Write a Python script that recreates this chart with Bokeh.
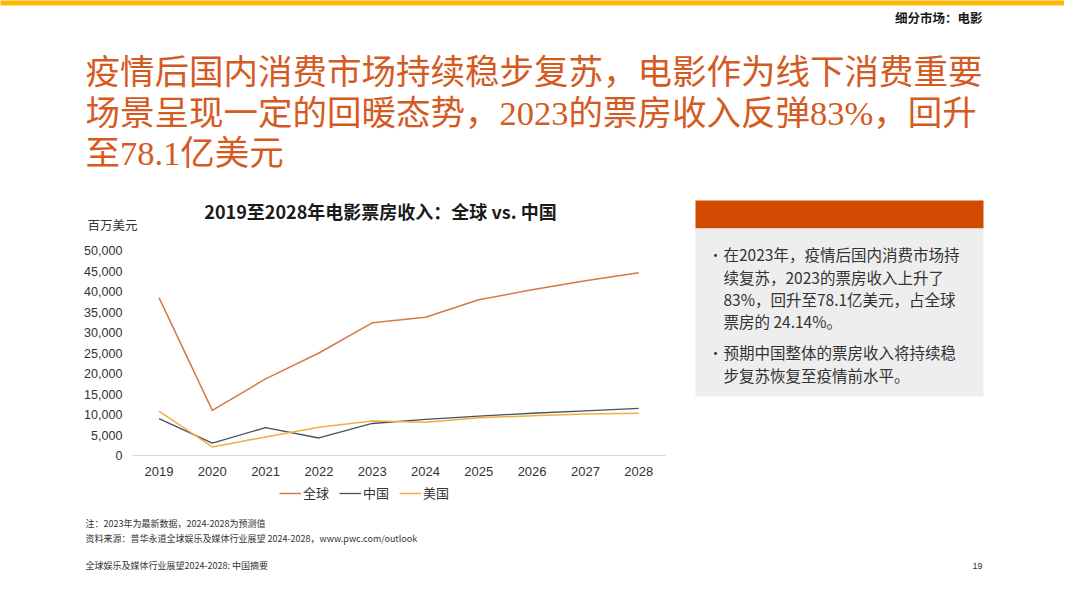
from bokeh.plotting import figure
from bokeh.models import (Range1d, Legend, LegendItem, NumeralTickFormatter,
                          FixedTicker)
from bokeh.core.properties import value
from bokeh.embed import file_html
from bokeh.resources import INLINE

# ---------------- data ----------------
years = [2019, 2020, 2021, 2022, 2023, 2024, 2025, 2026, 2027, 2028]
global_box = [38500, 11000, 18700, 25000, 32350, 33700, 38000, 40400, 42600, 44600]
china_box = [9000, 3000, 6800, 4270, 7810, 8800, 9600, 10300, 10900, 11500]
us_box = [10800, 2100, 4500, 6900, 8400, 8100, 9200, 9700, 10100, 10300]
series_names = ["全球", "中国", "美国"]
y_ticks = [0, 5000, 10000, 15000, 20000, 25000, 30000, 35000, 40000, 45000, 50000]
y_max = 50000

chart_title = "2019至2028年电影票房收入：全球 vs. 中国"
y_unit = "百万美元"
section = "细分市场：电影"
headline = ["疫情后国内消费市场持续稳步复苏，电影作为线下消费重要",
            "场景呈现一定的回暖态势，2023的票房收入反弹83%，回升",
            "至78.1亿美元"]
box_lines = ["在2023年，疫情后国内消费市场持",
             "续复苏，2023的票房收入上升了",
             "83%，回升至78.1亿美元，占全球",
             "票房的 24.14%。",
             "预期中国整体的票房收入将持续稳",
             "步复苏恢复至疫情前水平。"]
notes = ["注：2023年为最新数据，2024-2028为预测值",
         "资料来源：普华永道全球娱乐及媒体行业展望 2024-2028，www.pwc.com/outlook",
         "全球娱乐及媒体行业展望2024-2028: 中国摘要"]
page_no = "19"

CJK = "Noto Sans CJK SC"
LAT = "Liberation Sans"
HEAD_FONT = "Liberation Serif, Noto Sans CJK SC"
ORANGE = "#D04A02"
GRAY_BOX = "#EEEEEE"
TXT = "#333333"

# ---------------- page geometry (page pixels) ----------------
PX_L, PX_R, PX_T, PX_B = 8, 1072, 8, 599      # visible page area
YEAR0_PX, YEAR_STEP = 166.5, 53.3              # centre of first category, step
ZERO_PX, PLOT_H = 463, 205                     # y of 0, height of 0..y_max

x_start = years[0] - (YEAR0_PX - PX_L) / YEAR_STEP
x_end = years[0] + (PX_R - YEAR0_PX) / YEAR_STEP
u = PLOT_H / y_max
y_start = -(PX_B - ZERO_PX) / u
y_end = (ZERO_PX - PX_T) / u

p = figure(width=PX_R - PX_L, height=PX_B - PX_T,
           x_range=Range1d(x_start, x_end), y_range=Range1d(y_start, y_end),
           output_backend="svg", toolbar_location=None,
           min_border=0, min_border_left=0, min_border_right=0,
           min_border_top=0, min_border_bottom=0)
p.extra_x_ranges = {"px": Range1d(PX_L, PX_R)}
p.extra_y_ranges = {"px": Range1d(PX_B, PX_T)}
p.grid.visible = False
p.outline_line_color = None
p.background_fill_color = "white"
p.border_fill_color = "white"

# axes placed inside the page at the chart's position
half = 0.5
p.yaxis.fixed_location = years[0] - half
p.yaxis.bounds = (0, y_max)
p.yaxis.ticker = FixedTicker(ticks=y_ticks)
p.yaxis.formatter = NumeralTickFormatter(format="0,0")
p.yaxis.axis_line_color = None
p.yaxis.major_tick_line_color = None
p.yaxis.minor_tick_line_color = None
p.yaxis.major_tick_in = 0
p.yaxis.major_tick_out = 0
p.yaxis.minor_tick_in = 0
p.yaxis.minor_tick_out = 0
p.yaxis.major_label_standoff = 10
p.yaxis.major_label_text_font = LAT
p.yaxis.major_label_text_font_size = "12.5px"
p.yaxis.major_label_text_color = TXT

p.xaxis.fixed_location = 0
p.xaxis.bounds = (years[0] - half, years[-1] + half)
p.xaxis.ticker = FixedTicker(ticks=years)
p.xaxis.formatter = NumeralTickFormatter(format="0")
p.xaxis.axis_line_color = "#D9D9D9"
p.xaxis.axis_line_width = 1
p.xaxis.major_tick_line_color = None
p.xaxis.minor_tick_line_color = None
p.xaxis.major_tick_in = 0
p.xaxis.major_tick_out = 0
p.xaxis.minor_tick_in = 0
p.xaxis.minor_tick_out = 0
p.xaxis.major_label_standoff = 11
p.xaxis.major_label_text_font = LAT
p.xaxis.major_label_text_font_size = "13px"
p.xaxis.major_label_text_color = TXT

# series
r1 = p.line(x=years, y=global_box, line_color="#D47A44", line_width=1.5)
r2 = p.line(x=years, y=china_box, line_color="#4A4F63", line_width=1.3)
r3 = p.line(x=years, y=us_box, line_color="#F0AE3E", line_width=1.5)

legend = Legend(items=[LegendItem(label=series_names[0], renderers=[r1]),
                       LegendItem(label=series_names[1], renderers=[r2]),
                       LegendItem(label=series_names[2], renderers=[r3])],
                orientation="horizontal", location=(287 - PX_L, PX_B - 510),
                glyph_width=22, glyph_height=16, label_height=16,
                label_standoff=2, spacing=10, padding=0, margin=0,
                border_line_color=None, background_fill_alpha=0,
                label_text_font=CJK, label_text_font_size="13px",
                label_text_color=TXT)
p.add_layout(legend)

PX = dict(x_range_name="px", y_range_name="px")

# header
p.quad(left=[0], right=[1080], top=[0], bottom=[13], color="#FFB600",
       line_color=None, **PX)
p.text(x=[990], y=[25], text=[section], text_align="right", text_baseline="middle",
       text_font=value(CJK), text_font_size="12.5px", text_font_style="bold",
       text_color="#1a1a1a", **PX)
p.text(x=[93, 93, 93], y=[79, 120, 160], text=headline, text_align="left",
       text_baseline="middle", text_font=value(HEAD_FONT), text_font_size="34.5px",
       text_color="#D55A22", **PX)

# chart title and unit
p.text(x=[388], y=[218], text=[chart_title], text_align="center",
       text_baseline="middle", text_font=value(CJK), text_font_size="18px",
       text_font_style="bold", text_color="#1a1a1a", **PX)
p.text(x=[95], y=[232], text=[y_unit], text_align="left", text_baseline="middle",
       text_font=value(CJK), text_font_size="12.5px", text_color=TXT, **PX)

# text box
p.quad(left=[703], right=[991], top=[208], bottom=[236], color=ORANGE,
       line_color=None, **PX)
p.quad(left=[703], right=[991], top=[236], bottom=[404], color=GRAY_BOX,
       line_color=None, **PX)
p.text(x=[716, 716], y=[261, 359], text=["•", "•"], text_align="left",
       text_baseline="middle", text_font=value(CJK), text_font_size="14px",
       text_color=TXT, **PX)
p.text(x=[731] * 6, y=[261, 284, 306, 328, 359, 382], text=box_lines,
       text_align="left", text_baseline="middle", text_font=value(CJK),
       text_font_size="15.5px", text_color=TXT, **PX)

# footer
p.text(x=[93, 93, 93], y=[531, 546, 573], text=notes, text_align="left",
       text_baseline="middle", text_font=value(CJK), text_font_size="9px",
       text_color=TXT, **PX)
p.text(x=[990], y=[573], text=[page_no], text_align="right", text_baseline="middle",
       text_font=value(LAT), text_font_size="9px", text_color=TXT, **PX)

open("out.html", "w").write(file_html(p, INLINE))
